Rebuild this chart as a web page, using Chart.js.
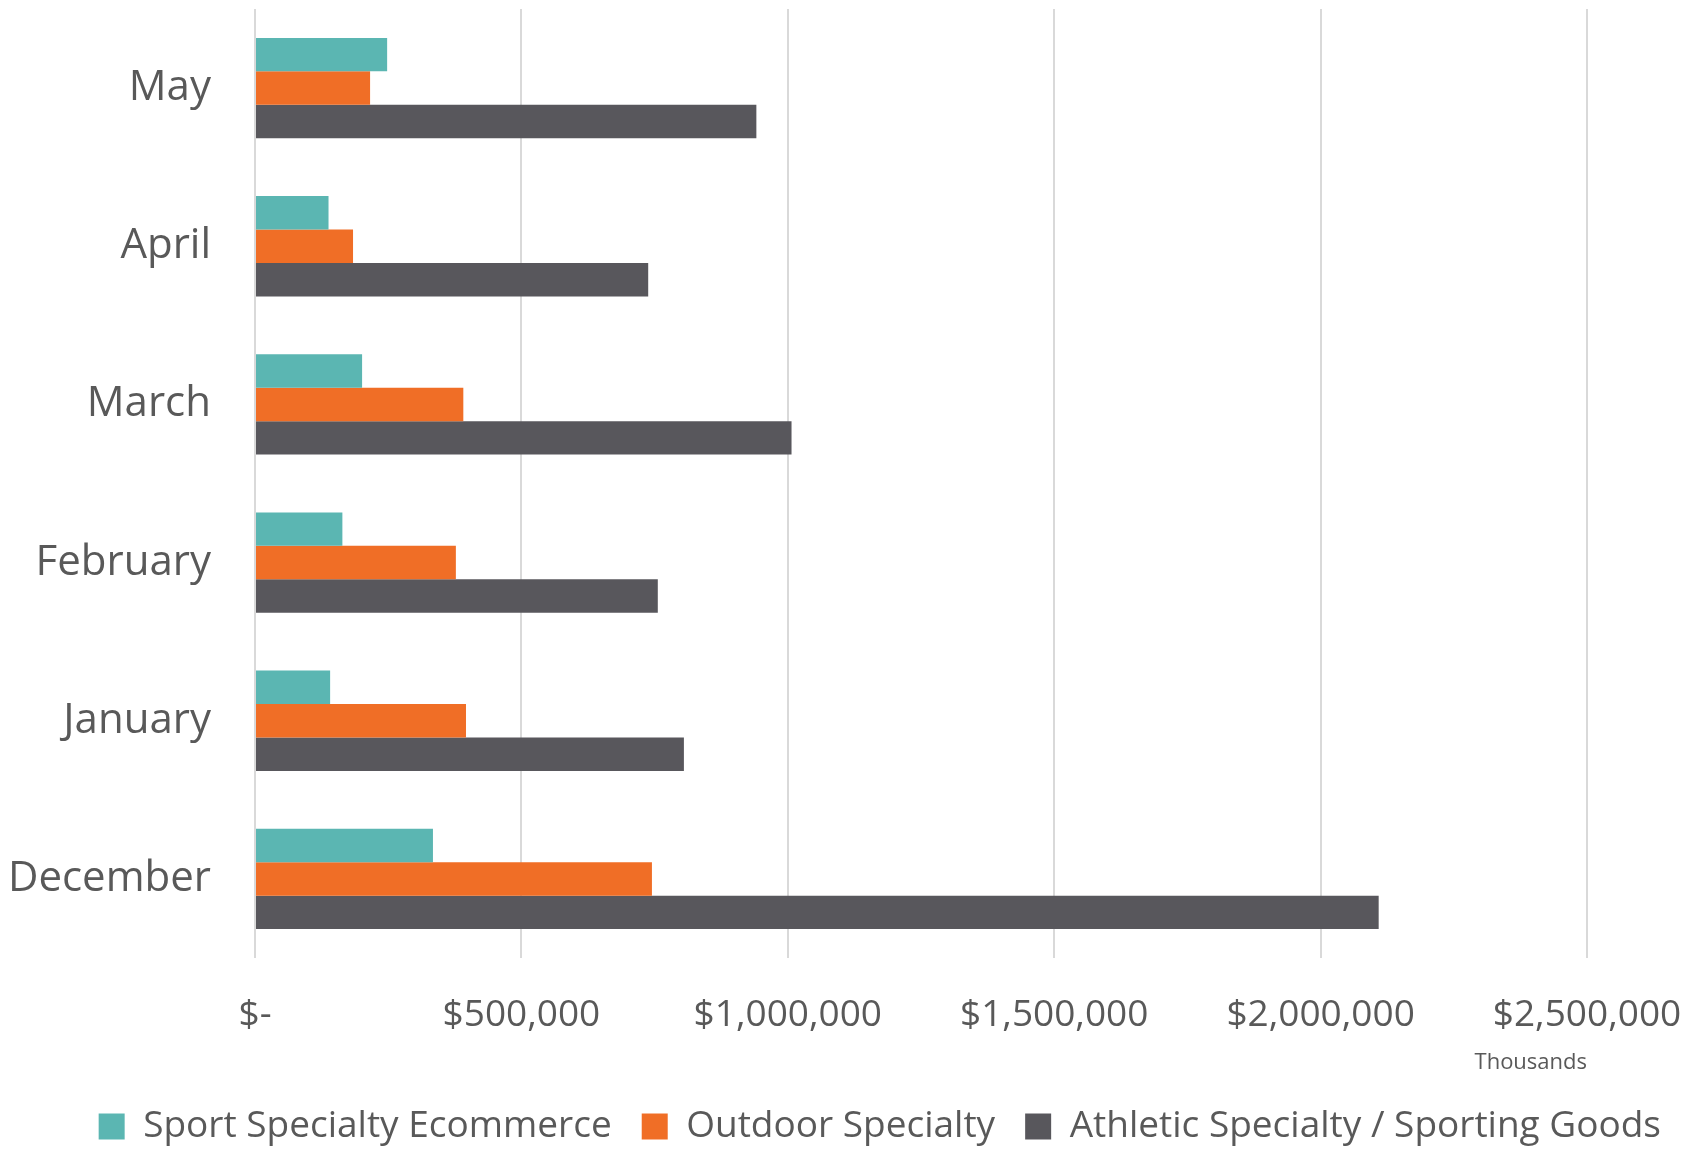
<!DOCTYPE html>
<html>
<head>
<meta charset="utf-8">
<script src="https://cdn.jsdelivr.net/npm/chart.js@4/dist/chart.umd.min.js"></script>
<style>
  html, body { margin: 0; padding: 0; background: #fff; }
  #wrap { width: 1691px; height: 1152px; }
</style>
</head>
<body>
<div id="wrap"><canvas id="myChart"></canvas></div>
<script>
// months top to bottom as they appear on the chart
const months = ['May', 'April', 'March', 'February', 'January', 'December'];
const ecommerce = [248000, 138000, 201000, 164000, 141000, 334000];
const outdoor = [216000, 184000, 391000, 377000, 396000, 745000];
const athletic = [941000, 738000, 1007000, 756000, 805000, 2109000];
const xTicks = [0, 500000, 1000000, 1500000, 2000000, 2500000];

const textColor = '#595959';
const fontFamily = "'Open Sans', sans-serif";

const ctx = document.getElementById('myChart').getContext('2d');
const myChart = new Chart(ctx, {
  type: 'bar',
  data: {
    labels: months,
    datasets: [
      { label: 'Sport Specialty Ecommerce', data: ecommerce, backgroundColor: '#5BB6B2' },
      { label: 'Outdoor Specialty', data: outdoor, backgroundColor: '#F06E26' },
      { label: 'Athletic Specialty / Sporting Goods', data: athletic, backgroundColor: '#58575C' },
    ],
  },
  options: {
    indexAxis: 'y',
    responsive: true,
    maintainAspectRatio: false,
    animation: false,
    datasets: {
      bar: { categoryPercentage: 0.634, barPercentage: 1.0, borderWidth: 0 },
    },
    layout: { padding: { top: 9, right: 0, bottom: 0, left: 0 } },
    scales: {
      x: {
        min: 0,
        max: 2500000,
        afterBuildTicks: (scale) => {
          scale.ticks = xTicks.map((v) => ({ value: v }));
        },
        grid: { color: '#D9D9D9', lineWidth: 2, drawTicks: false },
        border: { display: false },
        ticks: {
          padding: 35,
          color: textColor,
          font: { family: fontFamily, size: 37 },
          maxRotation: 0,
          callback: (v) => (v === 0 ? '$-' : '$' + v.toLocaleString('en-US')),
        },
        title: {
          display: true,
          text: 'Thousands',
          align: 'end',
          color: textColor,
          font: { family: fontFamily, size: 22 },
          padding: { top: 12, bottom: 2 },
        },
        afterFit: (scale) => {
          scale.height = 120;
          scale.paddingRight = 104;
        },
      },
      y: {
        grid: { display: false, drawTicks: false },
        border: { display: false },
        ticks: {
          padding: 44,
          color: textColor,
          font: { family: fontFamily, size: 42 },
        },
        afterFit: (scale) => {
          scale.width = 255;
          // labels sit inside their bands, no extra room needed above/below
          scale.paddingTop = 0;
          scale.paddingBottom = 0;
        },
      },
    },
    plugins: {
      legend: {
        position: 'bottom',
        align: 'end',
        maxHeight: 74,
        labels: {
          color: textColor,
          font: { family: fontFamily, size: 37 },
          boxWidth: 26,
          boxHeight: 26,
          padding: 30,
        },
      },
      tooltip: { enabled: false },
    },
  },
});
</script>
</body>
</html>
